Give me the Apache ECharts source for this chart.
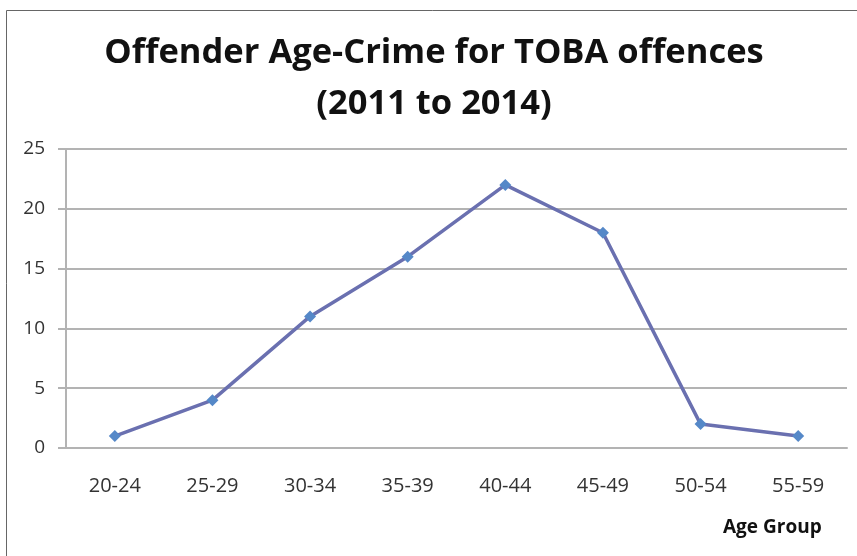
<!DOCTYPE html>
<html><head><meta charset="utf-8">
<script src="https://cdn.jsdelivr.net/npm/echarts@6/dist/echarts.min.js"></script>
<style>html,body{margin:0;padding:0;background:#fff}#c{width:857px;height:556px}</style>
</head><body><div id="c"></div>
<script>
const categories = ['20-24','25-29','30-34','35-39','40-44','45-49','50-54','55-59'];
const offenders = [1, 4, 11, 16, 22, 18, 2, 1];
const yTicks = [0, 5, 10, 15, 20, 25];

const chart = echarts.init(document.getElementById('c'));
chart.setOption({
  animation: false,
  backgroundColor: '#fff',
  title: {
    text: 'Offender Age-Crime for TOBA offences\n(2011 to 2014)',
    left: 429, top: 23, textAlign: 'center',
    textStyle: { fontFamily: 'Open Sans', fontWeight: 'bold', fontSize: 34.5, color: '#111', lineHeight: 51 }
  },
  graphic: [{
    type: 'rect', shape: { x: 6.5, y: 10.5, width: 900, height: 600 },
    style: { fill: 'none', stroke: '#666', lineWidth: 1 }, silent: true
  }, {
    type: 'text', left: 723, top: 518,
    style: { text: 'Age Group', font: 'bold 19px "Open Sans"', fill: '#111' }
  }],
  grid: { left: 66, right: 10, top: 149, bottom: 108 },
  xAxis: {
    type: 'category', data: categories, boundaryGap: true,
    axisLine: { lineStyle: { color: '#b3b3b3', width: 2 } },
    axisTick: { show: false },
    axisLabel: { fontFamily: 'Open Sans', fontSize: 20, color: '#333', margin: 28 }
  },
  yAxis: {
    type: 'value', min: yTicks[0], max: yTicks[yTicks.length - 1], interval: 5,
    axisLine: { show: true, lineStyle: { color: '#b3b3b3', width: 2 } },
    axisTick: { show: true, length: 8, lineStyle: { color: '#b3b3b3', width: 2 } },
    splitLine: { lineStyle: { color: '#b3b3b3', width: 2 } },
    axisLabel: { fontFamily: 'Open Sans', fontSize: 19, color: '#333', margin: 21 }
  },
  series: [{
    type: 'line', data: offenders,
    symbol: 'diamond', symbolSize: 12,
    lineStyle: { color: '#6a70b0', width: 3.5 },
    itemStyle: { color: '#5588c8' }
  }]
});
</script></body></html>
